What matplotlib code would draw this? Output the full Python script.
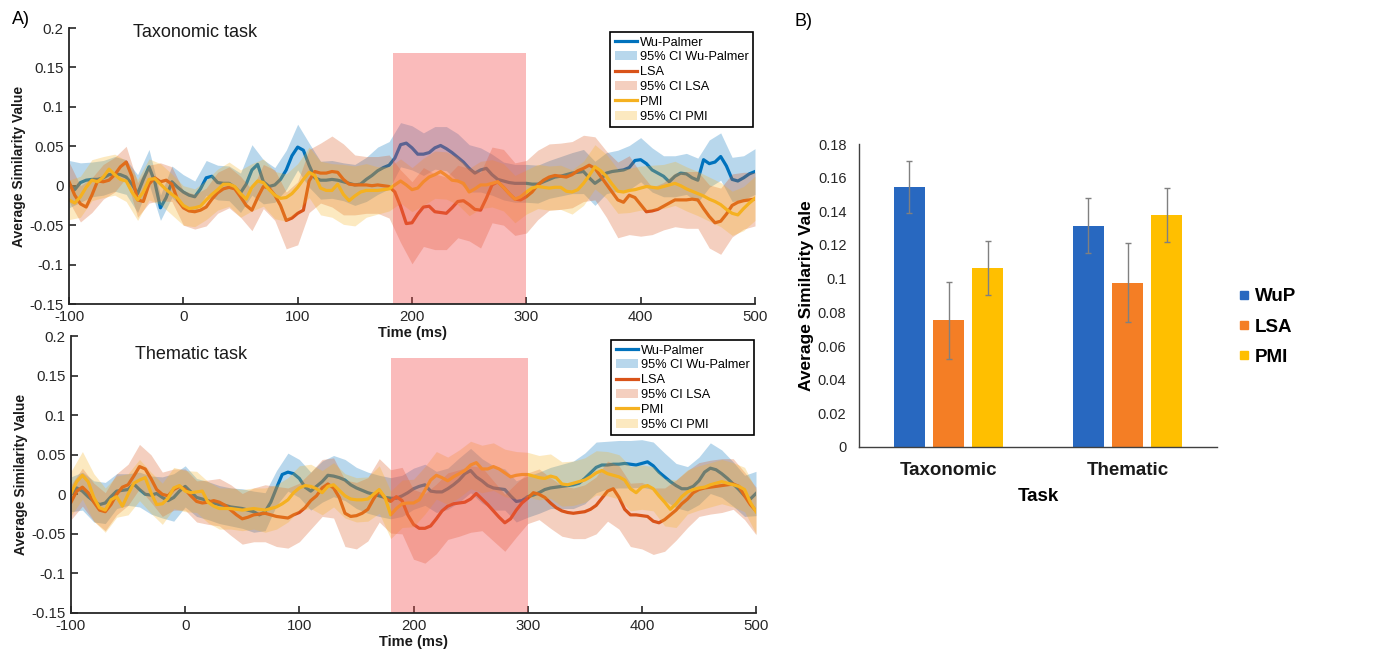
import numpy as np
import matplotlib
matplotlib.use('Agg')
import matplotlib.pyplot as plt
from matplotlib.patches import Patch, Rectangle
from matplotlib.lines import Line2D

plt.rcParams['font.family'] = ['Liberation Sans', 'DejaVu Sans']
plt.rcParams['axes.unicode_minus'] = False

# ---------------- data: time courses (5 ms samples) ----------------
time_ms = list(range(-100, 505, 5))
time_ci = list(range(-100, 510, 10))

wup_tax = [0.002, -0.005, 0.004, 0.007, 0.008, 0.008, 0.010, 0.014, 0.015, 0.014,
           0.011, 0.002, -0.010, 0.008, 0.024, 0.005, -0.028, -0.015, 0.005, -0.002,
           -0.008, -0.012, -0.014, -0.004, 0.010, 0.012, 0.004, 0.003, 0.003, -0.002,
           -0.009, 0.002, 0.020, 0.027, 0.005, -0.001, 0.001, 0.008, 0.020, 0.038,
           0.049, 0.045, 0.026, 0.010, 0.007, 0.007, 0.008, 0.007, 0.005, 0.003,
           0.001, 0.002, 0.008, 0.013, 0.019, 0.023, 0.026, 0.035, 0.052, 0.054,
           0.048, 0.040, 0.040, 0.042, 0.048, 0.051, 0.047, 0.042, 0.036, 0.030,
           0.022, 0.016, 0.020, 0.022, 0.014, 0.008, 0.006, 0.004, 0.003, 0.003,
           0.003, 0.002, 0.002, 0.005, 0.008, 0.011, 0.012, 0.014, 0.016, 0.017,
           0.018, 0.010, 0.003, 0.008, 0.016, 0.018, 0.019, 0.020, 0.023, 0.032,
           0.033, 0.028, 0.020, 0.016, 0.012, 0.005, 0.012, 0.016, 0.015, 0.010,
           0.007, 0.033, 0.028, 0.030, 0.037, 0.025, 0.008, 0.006, 0.010, 0.015,
           0.018]
lsa_tax = [0.005, -0.012, -0.023, -0.027, -0.012, 0.006, 0.005, 0.007, 0.014, 0.024,
           0.030, 0.012, -0.018, -0.020, 0.002, 0.010, 0.005, 0.007, 0.002, -0.018,
           -0.028, -0.032, -0.033, -0.031, -0.027, -0.017, -0.009, -0.004, -0.002, -0.004,
           -0.014, -0.025, -0.031, -0.015, -0.001, -0.003, -0.012, -0.025, -0.044, -0.041,
           -0.035, -0.031, 0.006, 0.018, 0.016, 0.016, 0.018, 0.017, 0.008, 0.002,
           0.001, 0.001, 0.001, 0.000, 0.001, 0.000, -0.001, -0.008, -0.026, -0.048,
           -0.047, -0.036, -0.027, -0.026, -0.033, -0.034, -0.035, -0.028, -0.020, -0.019,
           -0.024, -0.030, -0.031, -0.016, 0.001, 0.005, -0.002, -0.010, -0.017, -0.018,
           -0.014, -0.008, 0.001, 0.007, 0.011, 0.013, 0.012, 0.011, 0.014, 0.019,
           0.022, 0.026, 0.022, 0.012, 0.002, -0.008, -0.018, -0.021, -0.012, -0.015,
           -0.024, -0.033, -0.032, -0.030, -0.026, -0.022, -0.018, -0.018, -0.018, -0.017,
           -0.018, -0.029, -0.039, -0.047, -0.045, -0.036, -0.025, -0.021, -0.019, -0.018,
           -0.017]
pmi_tax = [-0.018, -0.022, -0.014, -0.002, 0.007, 0.005, 0.011, 0.021, 0.014, 0.008,
           0.006, -0.008, -0.018, -0.008, 0.008, 0.009, 0.002, -0.005, -0.011, -0.016,
           -0.025, -0.029, -0.028, -0.026, -0.018, -0.011, -0.005, 0.002, 0.002, -0.001,
           -0.010, -0.017, -0.002, 0.006, 0.004, -0.005, -0.012, -0.016, -0.015, -0.010,
           -0.002, 0.008, 0.017, 0.013, -0.003, -0.006, -0.006, 0.002, -0.011, -0.019,
           -0.013, -0.008, -0.006, -0.006, -0.006, -0.005, -0.004, 0.001, 0.006, 0.001,
           -0.005, -0.003, 0.005, 0.011, 0.014, 0.018, 0.013, 0.007, 0.006, 0.003,
           -0.008, -0.004, 0.001, 0.001, 0.003, 0.005, -0.002, -0.010, -0.017, -0.014,
           -0.008, -0.003, -0.001, -0.002, -0.003, -0.002, -0.002, -0.007, -0.008, -0.005,
           0.003, 0.013, 0.024, 0.019, 0.012, 0.002, -0.007, -0.008, -0.006, -0.005,
           -0.003, -0.001, -0.002, -0.003, -0.001, 0.001, 0.003, 0.000, -0.004, -0.007,
           -0.010, -0.013, -0.017, -0.020, -0.024, -0.030, -0.035, -0.037, -0.029, -0.022,
           -0.016]

wup_them = [0.000, 0.008, 0.004, -0.003, -0.009, -0.013, -0.011, -0.003, 0.004, 0.005,
            0.006, 0.013, 0.006, 0.000, -0.001, 0.001, -0.004, -0.008, -0.004, 0.004,
            0.010, 0.003, -0.004, -0.006, -0.008, -0.011, -0.013, -0.014, -0.016, -0.017,
            -0.018, -0.020, -0.022, -0.026, -0.022, -0.010, 0.008, 0.025, 0.028, 0.026,
            0.020, 0.009, 0.004, 0.010, 0.016, 0.024, 0.023, 0.021, 0.018, 0.012,
            0.008, 0.005, 0.002, 0.000, -0.002, -0.004, -0.005, -0.005, -0.002, 0.002,
            0.007, 0.010, 0.012, 0.004, 0.003, 0.003, 0.007, 0.012, 0.018, 0.026,
            0.030, 0.022, 0.017, 0.011, 0.008, 0.007, 0.006, -0.002, -0.009, -0.008,
            -0.003, -0.001, 0.002, 0.006, 0.008, 0.009, 0.010, 0.011, 0.012, 0.014,
            0.020, 0.027, 0.034, 0.037, 0.037, 0.038, 0.038, 0.039, 0.038, 0.037,
            0.039, 0.041, 0.036, 0.028, 0.022, 0.016, 0.011, 0.007, 0.007, 0.010,
            0.017, 0.028, 0.033, 0.031, 0.026, 0.020, 0.013, 0.006, -0.002, -0.006,
            0.001]
lsa_them = [-0.010, 0.004, 0.009, 0.002, -0.010, -0.020, -0.022, -0.013, 0.000, 0.009,
            0.012, 0.023, 0.035, 0.032, 0.020, 0.006, 0.000, -0.002, 0.006, 0.010,
            0.006, -0.002, -0.009, -0.011, -0.010, -0.008, -0.010, -0.014, -0.020, -0.026,
            -0.031, -0.029, -0.026, -0.025, -0.024, -0.026, -0.028, -0.029, -0.030, -0.026,
            -0.023, -0.017, -0.008, -0.002, 0.008, 0.013, 0.008, -0.004, -0.024, -0.028,
            -0.027, -0.024, -0.019, -0.006, 0.005, -0.005, -0.009, -0.003, -0.008, -0.026,
            -0.038, -0.043, -0.043, -0.040, -0.031, -0.021, -0.015, -0.012, -0.011, -0.010,
            -0.006, 0.001, -0.006, -0.013, -0.021, -0.029, -0.036, -0.031, -0.020, -0.011,
            -0.005, 0.002, 0.000, -0.004, -0.011, -0.017, -0.021, -0.023, -0.024, -0.023,
            -0.022, -0.019, -0.014, -0.005, 0.004, 0.007, -0.004, -0.019, -0.026, -0.026,
            -0.027, -0.028, -0.034, -0.036, -0.032, -0.026, -0.020, -0.012, -0.006, 0.002,
            0.006, 0.008, 0.009, 0.010, 0.011, 0.012, 0.013, 0.010, -0.002, -0.013,
            -0.021]
pmi_them = [0.001, 0.016, 0.024, 0.016, -0.004, -0.017, -0.020, -0.007, -0.003, -0.015,
            0.000, 0.014, 0.018, 0.021, 0.002, -0.013, -0.012, -0.005, 0.008, 0.011,
            0.004, 0.002, 0.003, 0.004, -0.010, -0.015, -0.018, -0.018, -0.018, -0.019,
            -0.020, -0.019, -0.018, -0.019, -0.020, -0.018, -0.016, -0.012, -0.007, 0.002,
            0.008, 0.011, 0.010, 0.007, 0.002, 0.010, 0.012, 0.005, -0.002, -0.006,
            -0.007, -0.007, -0.006, 0.000, 0.006, -0.004, -0.026, -0.018, -0.012, -0.011,
            -0.011, -0.007, 0.005, 0.018, 0.024, 0.021, 0.017, 0.022, 0.026, 0.030,
            0.037, 0.040, 0.032, 0.032, 0.035, 0.032, 0.027, 0.022, 0.024, 0.025,
            0.025, 0.023, 0.021, 0.020, 0.023, 0.021, 0.013, 0.012, 0.014, 0.016,
            0.018, 0.022, 0.027, 0.030, 0.026, 0.024, 0.022, 0.018, 0.007, 0.002,
            0.009, 0.011, 0.007, -0.002, -0.010, -0.019, -0.012, -0.003, 0.003, 0.006,
            0.008, 0.009, 0.012, 0.014, 0.016, 0.014, 0.012, 0.010, 0.006, -0.010,
            -0.022]

# 95% CI half-widths (10 ms samples)
wup_tax_ci = [0.030, 0.025, 0.022, 0.022, 0.022, 0.022, 0.024, 0.022, 0.016, 0.020,
              0.022, 0.020, 0.022, 0.022, 0.022, 0.025, 0.032, 0.028, 0.022, 0.025,
              0.029, 0.028, 0.024, 0.024, 0.024, 0.026, 0.028, 0.030, 0.030, 0.028,
              0.028, 0.027, 0.027, 0.028, 0.030, 0.030, 0.028, 0.026, 0.024, 0.024,
              0.024, 0.024, 0.024, 0.025, 0.026, 0.028, 0.028, 0.026, 0.026, 0.028,
              0.028, 0.028, 0.026, 0.026, 0.026, 0.028, 0.030, 0.030, 0.028, 0.028,
              0.029]
lsa_tax_ci = [0.025, 0.023, 0.022, 0.022, 0.022, 0.020, 0.022, 0.024, 0.024, 0.022,
              0.022, 0.022, 0.024, 0.026, 0.026, 0.026, 0.026, 0.028, 0.032, 0.036,
              0.040, 0.040, 0.038, 0.045, 0.045, 0.038, 0.036, 0.036, 0.040, 0.046,
              0.052, 0.050, 0.048, 0.046, 0.046, 0.046, 0.048, 0.048, 0.048, 0.046,
              0.046, 0.044, 0.042, 0.042, 0.042, 0.042, 0.040, 0.042, 0.048, 0.050,
              0.040, 0.030, 0.030, 0.034, 0.036, 0.036, 0.040, 0.042, 0.040, 0.036,
              0.034]
pmi_tax_ci = [0.025, 0.026, 0.026, 0.026, 0.026, 0.026, 0.026, 0.026, 0.026, 0.026,
              0.025, 0.024, 0.025, 0.026, 0.028, 0.030, 0.030, 0.030, 0.030, 0.030,
              0.030, 0.032, 0.034, 0.034, 0.038, 0.038, 0.034, 0.030, 0.028, 0.028,
              0.028, 0.030, 0.030, 0.030, 0.030, 0.030, 0.030, 0.030, 0.030, 0.030,
              0.028, 0.028, 0.028, 0.028, 0.028, 0.028, 0.028, 0.028, 0.028, 0.028,
              0.028, 0.028, 0.028, 0.028, 0.028, 0.028, 0.028, 0.028, 0.028, 0.028,
              0.028]
wup_them_ci = [0.022, 0.024, 0.026, 0.026, 0.022, 0.020, 0.022, 0.024, 0.026, 0.030,
               0.026, 0.024, 0.024, 0.024, 0.024, 0.025, 0.026, 0.024, 0.022, 0.024,
               0.024, 0.024, 0.026, 0.026, 0.026, 0.026, 0.026, 0.026, 0.026, 0.026,
               0.026, 0.026, 0.026, 0.026, 0.028, 0.028, 0.028, 0.028, 0.026, 0.026,
               0.026, 0.026, 0.026, 0.028, 0.030, 0.032, 0.032, 0.030, 0.030, 0.030,
               0.030, 0.030, 0.030, 0.028, 0.028, 0.030, 0.032, 0.030, 0.028, 0.026,
               0.028]
lsa_them_ci = [0.022, 0.024, 0.024, 0.024, 0.026, 0.026, 0.028, 0.030, 0.028, 0.026,
               0.026, 0.026, 0.028, 0.030, 0.032, 0.032, 0.034, 0.036, 0.038, 0.038,
               0.037, 0.036, 0.036, 0.038, 0.042, 0.042, 0.040, 0.040, 0.040, 0.042,
               0.044, 0.044, 0.044, 0.042, 0.042, 0.042, 0.040, 0.038, 0.036, 0.034,
               0.032, 0.032, 0.032, 0.032, 0.032, 0.034, 0.036, 0.038, 0.040, 0.040,
               0.042, 0.042, 0.040, 0.038, 0.036, 0.034, 0.034, 0.034, 0.032, 0.030,
               0.030]
pmi_them_ci = [0.028, 0.030, 0.030, 0.028, 0.026, 0.026, 0.026, 0.026, 0.026, 0.026,
               0.026, 0.026, 0.026, 0.026, 0.026, 0.026, 0.026, 0.028, 0.028, 0.028,
               0.028, 0.028, 0.028, 0.028, 0.028, 0.028, 0.028, 0.030, 0.030, 0.030,
               0.030, 0.030, 0.030, 0.030, 0.030, 0.030, 0.030, 0.030, 0.030, 0.030,
               0.028, 0.028, 0.028, 0.028, 0.028, 0.028, 0.028, 0.028, 0.028, 0.028,
               0.028, 0.028, 0.030, 0.030, 0.028, 0.028, 0.028, 0.028, 0.028, 0.028,
               0.028]

# highlighted analysis windows (ms) and their upper edge
tax_window = (183, 300)
tax_window_top = 0.168
them_window = (180, 300)
them_window_top = 0.172

series_names = ['Wu-Palmer', 'LSA', 'PMI']
ci_names = ['95% CI Wu-Palmer', '95% CI LSA', '95% CI PMI']
xticks_ts = [-100, 0, 100, 200, 300, 400, 500]
yticks_ts = [-0.15, -0.1, -0.05, 0, 0.05, 0.1, 0.15, 0.2]
ytick_labels_ts = ['-0.15', '-0.1', '-0.05', '0', '0.05', '0.1', '0.15', '0.2']

# ---------------- data: bar chart ----------------
tasks = ['Taxonomic', 'Thematic']
bar_series = ['WuP', 'LSA', 'PMI']
bar_wup = [0.1545, 0.1315]
bar_lsa = [0.0752, 0.0977]
bar_pmi = [0.1063, 0.1378]
err_wup = [0.0155, 0.0162]
err_lsa = [0.0230, 0.0232]
err_pmi = [0.0160, 0.0160]
yticks_bar = [0, 0.02, 0.04, 0.06, 0.08, 0.1, 0.12, 0.14, 0.16, 0.18]
ytick_labels_bar = ['0', '0.02', '0.04', '0.06', '0.08', '0.1', '0.12', '0.14', '0.16', '0.18']

# ---------------- styling ----------------
C_WUP = '#0072BD'
C_LSA = '#D95319'
C_PMI = '#F5B120'
C_WIN = '#F24C4C'
AX_COL = '#262626'

B_WUP = '#2868C0'
B_LSA = '#F47E25'
B_PMI = '#FFBF00'

fig = plt.figure(figsize=(13.84, 6.57), dpi=100)
ax_top = fig.add_axes([69/1384, 1-304/657, 686/1384, 276/657])
ax_bot = fig.add_axes([71/1384, 1-613/657, 685/1384, 277/657])
ax_top.patch.set_visible(False)
ax_bot.patch.set_visible(False)
ax_top.set_zorder(2)
ax_bot.set_zorder(1)


def draw_panel(ax, means, cis, window, window_top, title, title_y):
    t = np.array(time_ms)
    tc = np.array(time_ci)
    cols = [C_WUP, C_LSA, C_PMI]
    handles = []
    labels = []
    z = 2
    for m, hw, col, nm, cn in zip(means, cis, cols, series_names, ci_names):
        m = np.array(m)
        hw = np.array(hw)
        ln, = ax.plot(t, m, color=col, lw=2.3, zorder=z, solid_joinstyle='round')
        mc = m[::2]
        ax.fill_between(tc, mc - hw, mc + hw, color=col, alpha=0.28, lw=0, zorder=z + 1)
        handles += [ln, Patch(facecolor=col, alpha=0.28, edgecolor='none')]
        labels += [nm, cn]
        z += 2
    ax.add_patch(Rectangle((window[0], -0.15), window[1] - window[0], window_top + 0.15,
                           facecolor=C_WIN, alpha=0.38, lw=0, zorder=9))
    ax.set_xlim(-100, 500)
    ax.set_ylim(-0.15, 0.2)
    ax.set_xticks(xticks_ts)
    ax.set_yticks(yticks_ts)
    ax.set_yticklabels(ytick_labels_ts)
    for s in ['top', 'right']:
        ax.spines[s].set_visible(False)
    for s in ['left', 'bottom']:
        ax.spines[s].set_linewidth(1.3)
        ax.spines[s].set_color(AX_COL)
        ax.spines[s].set_zorder(12)
    ax.tick_params(direction='in', length=5, width=1.2, labelsize=10.8,
                   colors=AX_COL, pad=4)
    ax.set_xlabel('Time (ms)', fontsize=10.5, fontweight='bold', labelpad=2, color='#1a1a1a')
    ax.set_ylabel('Average Similarity Value', fontsize=10, fontweight='bold',
                  labelpad=2, color='#1a1a1a')
    ax.text(-44, title_y, title, fontsize=13, va='center', ha='left', color='#1a1a1a')
    leg = ax.legend(handles, labels, loc='upper right', bbox_to_anchor=(0.997, 0.985),
                    fontsize=9.2, frameon=True, fancybox=False, edgecolor='black',
                    framealpha=1, borderpad=0.35, labelspacing=0.22, handlelength=1.7,
                    handletextpad=0.25, borderaxespad=0)
    leg.get_frame().set_linewidth(1.2)
    leg.set_zorder(20)


draw_panel(ax_top, [wup_tax, lsa_tax, pmi_tax], [wup_tax_ci, lsa_tax_ci, pmi_tax_ci],
           tax_window, tax_window_top, 'Taxonomic task', 0.194)
draw_panel(ax_bot, [wup_them, lsa_them, pmi_them], [wup_them_ci, lsa_them_ci, pmi_them_ci],
           them_window, them_window_top, 'Thematic task', 0.176)

# ---------------- bar chart ----------------
ax_bar = fig.add_axes([859/1384, 1-447/657, 358/1384, 303/657])
x = np.arange(len(tasks))
offsets = [-0.22, 0.0, 0.22]
bar_vals = [bar_wup, bar_lsa, bar_pmi]
bar_errs = [err_wup, err_lsa, err_pmi]
bar_cols = [B_WUP, B_LSA, B_PMI]
for off, vals, errs, col in zip(offsets, bar_vals, bar_errs, bar_cols):
    ax_bar.bar(x + off, vals, width=0.173, color=col, yerr=errs,
               error_kw=dict(ecolor='#808080', elinewidth=1.0, capsize=2, capthick=1.0),
               zorder=2)
ax_bar.set_xlim(-0.5, 1.5)
ax_bar.set_ylim(0, 0.18)
ax_bar.set_yticks(yticks_bar)
ax_bar.set_yticklabels(ytick_labels_bar)
ax_bar.set_xticks(x)
ax_bar.set_xticklabels(tasks, fontsize=13.5, fontweight='bold')
for s in ['top', 'right']:
    ax_bar.spines[s].set_visible(False)
for s in ['left', 'bottom']:
    ax_bar.spines[s].set_linewidth(1.0)
    ax_bar.spines[s].set_color('#404040')
ax_bar.tick_params(axis='y', length=0, labelsize=10.5, pad=9, colors='#262626')
ax_bar.tick_params(axis='x', length=0, pad=11, colors='#1a1a1a')
ax_bar.set_ylabel('Average Similarity Vale', fontsize=12.5, fontweight='bold', labelpad=3)
ax_bar.set_xlabel('Task', fontsize=13.5, fontweight='bold', labelpad=6)

leg_handles = [Line2D([], [], marker='s', ls='none', markersize=6, color=c) for c in bar_cols]
fig.legend(leg_handles, bar_series, loc='center left', bbox_to_anchor=(1228/1384, 1-327/657),
           frameon=False, prop={'weight': 'bold', 'size': 13.5}, labelspacing=0.7,
           handlelength=0.7, handletextpad=0.25, borderpad=0)

fig.text(12/1384, 1-19/657, 'A)', fontsize=13, va='center', ha='left')
fig.text(795/1384, 1-21/657, 'B)', fontsize=13, va='center', ha='left')

fig.savefig('out.png', dpi=100)
